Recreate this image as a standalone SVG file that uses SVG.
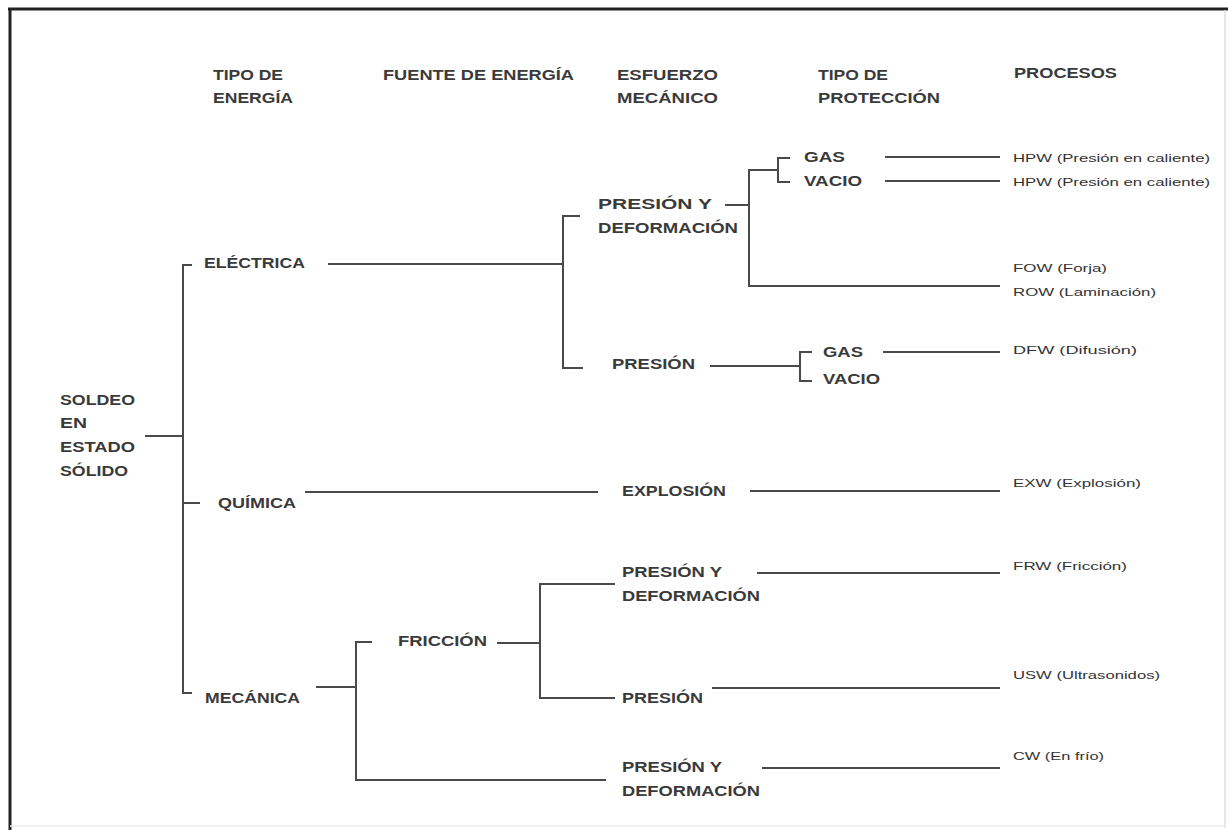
<svg xmlns="http://www.w3.org/2000/svg" width="1228" height="830" viewBox="0 0 1228 830">
<style>
text{font-family:"Liberation Sans",Arial,sans-serif;fill:#3a3a3a;}
.h{font-size:14px;font-weight:bold;}
.n{font-size:14px;font-weight:bold;}
.p{font-size:11.5px;font-weight:normal;fill:#333;}
.c line,.c polyline{stroke:#4a4a4a;stroke-width:2;fill:none;}
</style>
<rect x="0" y="0" width="1228" height="830" fill="#fff"/>
<g id="frame">
<line x1="8" y1="9" x2="1228" y2="9" stroke="#222" stroke-width="3"/>
<line x1="10" y1="8" x2="10" y2="830" stroke="#222" stroke-width="3"/>
<line x1="1225" y1="10" x2="1225" y2="828" stroke="#ddd" stroke-width="1.5"/>
<line x1="10" y1="826" x2="1226" y2="826" stroke="#eee" stroke-width="1.5"/>
</g>
<g id="headers">
<text class="h" x="213" y="80" textLength="70" lengthAdjust="spacingAndGlyphs">TIPO DE</text>
<text class="h" x="213" y="103" textLength="80" lengthAdjust="spacingAndGlyphs">ENERGÍA</text>
<text class="h" x="383" y="80" textLength="191" lengthAdjust="spacingAndGlyphs">FUENTE DE ENERGÍA</text>
<text class="h" x="617" y="80" textLength="101" lengthAdjust="spacingAndGlyphs">ESFUERZO</text>
<text class="h" x="617" y="103" textLength="101" lengthAdjust="spacingAndGlyphs">MECÁNICO</text>
<text class="h" x="818" y="80" textLength="70" lengthAdjust="spacingAndGlyphs">TIPO DE</text>
<text class="h" x="818" y="103" textLength="122" lengthAdjust="spacingAndGlyphs">PROTECCIÓN</text>
<text class="h" x="1014" y="78" textLength="103" lengthAdjust="spacingAndGlyphs">PROCESOS</text>
</g>
<g id="root">
<text class="n" x="60" y="405" textLength="75" lengthAdjust="spacingAndGlyphs">SOLDEO</text>
<text class="n" x="60" y="428" textLength="27" lengthAdjust="spacingAndGlyphs">EN</text>
<text class="n" x="60" y="452" textLength="75" lengthAdjust="spacingAndGlyphs">ESTADO</text>
<text class="n" x="60" y="476" textLength="68" lengthAdjust="spacingAndGlyphs">SÓLIDO</text>
</g>
<g id="electrica"><text class="n" x="204" y="268" textLength="101" lengthAdjust="spacingAndGlyphs">ELÉCTRICA</text></g>
<g id="quimica"><text class="n" x="218" y="508" textLength="78" lengthAdjust="spacingAndGlyphs">QUÍMICA</text></g>
<g id="mecanica"><text class="n" x="205" y="703" textLength="95" lengthAdjust="spacingAndGlyphs">MECÁNICA</text></g>
<g id="e-pyd">
<text class="n" x="598" y="209" textLength="114" lengthAdjust="spacingAndGlyphs">PRESIÓN Y</text>
<text class="n" x="598" y="233" textLength="140" lengthAdjust="spacingAndGlyphs">DEFORMACIÓN</text>
</g>
<g id="e-presion"><text class="n" x="612" y="369" textLength="83" lengthAdjust="spacingAndGlyphs">PRESIÓN</text></g>
<g id="e-gas1"><text class="n" x="804" y="162" textLength="41" lengthAdjust="spacingAndGlyphs">GAS</text></g>
<g id="e-vacio1"><text class="n" x="804" y="186" textLength="58" lengthAdjust="spacingAndGlyphs">VACIO</text></g>
<g id="e-gas2"><text class="n" x="823" y="357" textLength="40" lengthAdjust="spacingAndGlyphs">GAS</text></g>
<g id="e-vacio2"><text class="n" x="823" y="384" textLength="57" lengthAdjust="spacingAndGlyphs">VACIO</text></g>
<g id="q-explosion"><text class="n" x="622" y="496" textLength="104" lengthAdjust="spacingAndGlyphs">EXPLOSIÓN</text></g>
<g id="m-friccion"><text class="n" x="398" y="646" textLength="89" lengthAdjust="spacingAndGlyphs">FRICCIÓN</text></g>
<g id="m-pyd1">
<text class="n" x="622" y="577" textLength="100" lengthAdjust="spacingAndGlyphs">PRESIÓN Y</text>
<text class="n" x="622" y="601" textLength="138" lengthAdjust="spacingAndGlyphs">DEFORMACIÓN</text>
</g>
<g id="m-presion"><text class="n" x="622" y="703" textLength="81" lengthAdjust="spacingAndGlyphs">PRESIÓN</text></g>
<g id="m-pyd2">
<text class="n" x="622" y="772" textLength="100" lengthAdjust="spacingAndGlyphs">PRESIÓN Y</text>
<text class="n" x="622" y="796" textLength="138" lengthAdjust="spacingAndGlyphs">DEFORMACIÓN</text>
</g>
<g id="procesos">
<text class="p" x="1013" y="162" textLength="197" lengthAdjust="spacingAndGlyphs">HPW (Presión en caliente)</text>
<text class="p" x="1013" y="186" textLength="197" lengthAdjust="spacingAndGlyphs">HPW (Presión en caliente)</text>
<text class="p" x="1013" y="272" textLength="94" lengthAdjust="spacingAndGlyphs">FOW (Forja)</text>
<text class="p" x="1013" y="296" textLength="143" lengthAdjust="spacingAndGlyphs">ROW (Laminación)</text>
<text class="p" x="1013" y="354" textLength="124" lengthAdjust="spacingAndGlyphs">DFW (Difusión)</text>
<text class="p" x="1013" y="487" textLength="128" lengthAdjust="spacingAndGlyphs">EXW (Explosión)</text>
<text class="p" x="1013" y="570" textLength="114" lengthAdjust="spacingAndGlyphs">FRW (Fricción)</text>
<text class="p" x="1013" y="679" textLength="147" lengthAdjust="spacingAndGlyphs">USW (Ultrasonidos)</text>
<text class="p" x="1013" y="760" textLength="91" lengthAdjust="spacingAndGlyphs">CW (En frío)</text>
</g>
<g id="connectors" class="c">
<line x1="145" y1="436" x2="183" y2="436"/>
<polyline points="192,265 183,265 183,693 192,693"/>
<line x1="183" y1="503" x2="200" y2="503"/>
<line x1="328" y1="264" x2="563" y2="264"/>
<polyline points="580,216 563,216 563,368 583,368"/>
<line x1="725" y1="205" x2="749" y2="205"/>
<polyline points="778,170 749,170 749,286 1000,286"/>
<polyline points="790,158 778,158 778,182 790,182"/>
<line x1="885" y1="157" x2="1000" y2="157"/>
<line x1="885" y1="181" x2="1000" y2="181"/>
<line x1="710" y1="366" x2="800" y2="366"/>
<polyline points="812,352 800,352 800,381 812,381"/>
<line x1="883" y1="352" x2="1000" y2="352"/>
<line x1="305" y1="492" x2="598" y2="492"/>
<line x1="750" y1="491" x2="1000" y2="491"/>
<line x1="316" y1="687" x2="356" y2="687"/>
<polyline points="372,642 356,642 356,780 606,780"/>
<line x1="497" y1="643" x2="540" y2="643"/>
<polyline points="615,584 540,584 540,698 615,698"/>
<line x1="757" y1="573" x2="1000" y2="573"/>
<line x1="712" y1="688" x2="1000" y2="688"/>
<line x1="762" y1="768" x2="1000" y2="768"/>
</g>
</svg>
